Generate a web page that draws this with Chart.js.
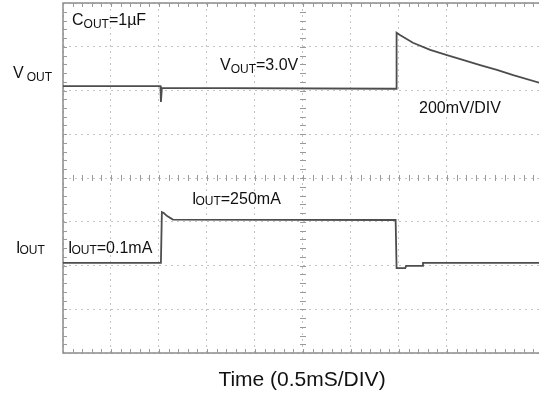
<!DOCTYPE html>
<html><head><meta charset="utf-8">
<script src="https://cdn.jsdelivr.net/npm/chart.js@4/dist/chart.umd.min.js"></script>
<style>html,body{margin:0;padding:0;background:#fff}</style>
</head><body>
<canvas id="c" width="539" height="396"></canvas>
<script>
// ---- data (time in divisions of 0.5 ms, level in vertical divisions) ----
const voutTime  = [0, 2.03, 2.04, 2.06, 6.94, 6.95, 7.02, 7.29, 7.65, 8.00, 8.33, 8.69, 9.04, 9.38, 9.92];
const voutLevel = [6.10, 6.10, 5.74, 6.06, 6.04, 7.32, 7.27, 7.09, 6.93, 6.81, 6.70, 6.58, 6.47, 6.35, 6.18];
const ioutTime  = [0, 2.04, 2.06, 2.10, 2.17, 2.29, 6.93, 6.95, 7.13, 7.15, 7.48, 7.50, 9.92];
const ioutLevel = [2.06, 2.06, 3.22, 3.20, 3.13, 3.05, 3.04, 1.94, 1.94, 1.99, 1.99, 2.06, 2.06];
const xDivMax = 9.917;   // visible horizontal divisions (screen cut at right)
const yDivMax = 8;       // vertical divisions
const axisTitle = "Time (0.5mS/DIV)";
const scaleNote = "200mV/DIV";

const FONT = '"Liberation Sans", Arial, sans-serif';
function drawParts(ctx, parts, x, y){
  ctx.textBaseline = 'alphabetic'; ctx.textAlign = 'left';
  for (const p of parts){
    ctx.font = p.s + 'px ' + FONT;
    ctx.fillText(p.t, x + (p.dx||0), y + (p.dy||0));
    x += ctx.measureText(p.t).width + (p.dx||0);
  }
}

const scopePlugin = {
  id: 'scope',
  beforeDatasetsDraw(chart){
    const {ctx, chartArea:a, scales:{x, y}} = chart;
    ctx.save();
    ctx.strokeStyle = '#8c8c8c';
    ctx.lineWidth = 1.5;
    ctx.beginPath();
    ctx.moveTo(a.right + 2, a.top); ctx.lineTo(a.left, a.top);
    ctx.lineTo(a.left, a.bottom); ctx.lineTo(a.right + 2, a.bottom);
    ctx.stroke();
    ctx.lineWidth = 1;
    ctx.strokeStyle = '#9a9a9a';
    const cy = y.getPixelForValue(yDivMax / 2);
    const cx = x.getPixelForValue(5);
    ctx.beginPath();
    for (let i = 1; i <= Math.floor(xDivMax * 5); i++){
      const px = Math.round(x.getPixelForValue(i / 5)) + 0.5;
      ctx.moveTo(px, a.bottom); ctx.lineTo(px, a.bottom - 4);
      ctx.moveTo(px, a.top); ctx.lineTo(px, a.top + 4);
      ctx.moveTo(px, cy - 3); ctx.lineTo(px, cy + 3);
    }
    for (let i = 1; i < yDivMax * 5; i++){
      const py = Math.round(y.getPixelForValue(i / 5)) + 0.5;
      ctx.moveTo(a.left, py); ctx.lineTo(a.left + 4, py);
      ctx.moveTo(cx - 3, py); ctx.lineTo(cx + 3, py);
    }
    ctx.stroke();
    ctx.restore();
  },
  afterDatasetsDraw(chart){
    const {ctx} = chart;
    ctx.save();
    ctx.fillStyle = '#111';
    drawParts(ctx, [{t:'C',s:16},{t:'OUT',s:12,dy:3},{t:'=1µF',s:16}], 72, 25);
    drawParts(ctx, [{t:'V',s:16},{t:'OUT',s:12,dy:3},{t:'=3.0V',s:16}], 220, 70);
    drawParts(ctx, [{t:scaleNote,s:16}], 419, 113);
    drawParts(ctx, [{t:'I',s:16},{t:'OUT',s:12,dx:-1,dy:1},{t:'=250mA',s:16}], 192, 204);
    drawParts(ctx, [{t:'I',s:16},{t:'OUT',s:12,dx:-1,dy:1},{t:'=0.1mA',s:16}], 68, 253);
    drawParts(ctx, [{t:'V',s:16},{t:'OUT',s:12,dx:3,dy:3}], 13, 78);
    drawParts(ctx, [{t:'I',s:16},{t:'OUT',s:12,dx:-1,dy:1}], 16, 253);
    ctx.font = '21px ' + FONT;
    ctx.textAlign = 'center';
    ctx.fillText(axisTitle, 302, 386);
    ctx.restore();
  }
};

const mk = (xs, ys) => xs.map((v, i) => ({x: v, y: ys[i]}));

new Chart(document.getElementById('c'), {
  type: 'line',
  data: {
    datasets: [
      {label: 'VOUT', data: mk(voutTime, voutLevel), borderColor: '#4d4d4d', borderWidth: 1.8, pointRadius: 0, tension: 0, fill: false},
      {label: 'IOUT', data: mk(ioutTime, ioutLevel), borderColor: '#4d4d4d', borderWidth: 1.8, pointRadius: 0, tension: 0, fill: false}
    ]
  },
  options: {
    responsive: false,
    devicePixelRatio: 1,
    animation: false,
    layout: {padding: {left: 63, top: 3, right: 0, bottom: 43}},
    plugins: {legend: {display: false}, tooltip: {enabled: false}},
    scales: {
      x: {type: 'linear', min: 0, max: xDivMax,
          ticks: {display: false, stepSize: 1},
          grid: {color: '#c4c4c4', lineWidth: 1, drawTicks: false},
          border: {display: false, dash: [2, 4]}},
      y: {type: 'linear', min: 0, max: yDivMax,
          ticks: {display: false, stepSize: 1},
          grid: {color: '#c4c4c4', lineWidth: 1, drawTicks: false},
          border: {display: false, dash: [2, 4]}}
    }
  },
  plugins: [scopePlugin]
});
</script>
</body></html>
